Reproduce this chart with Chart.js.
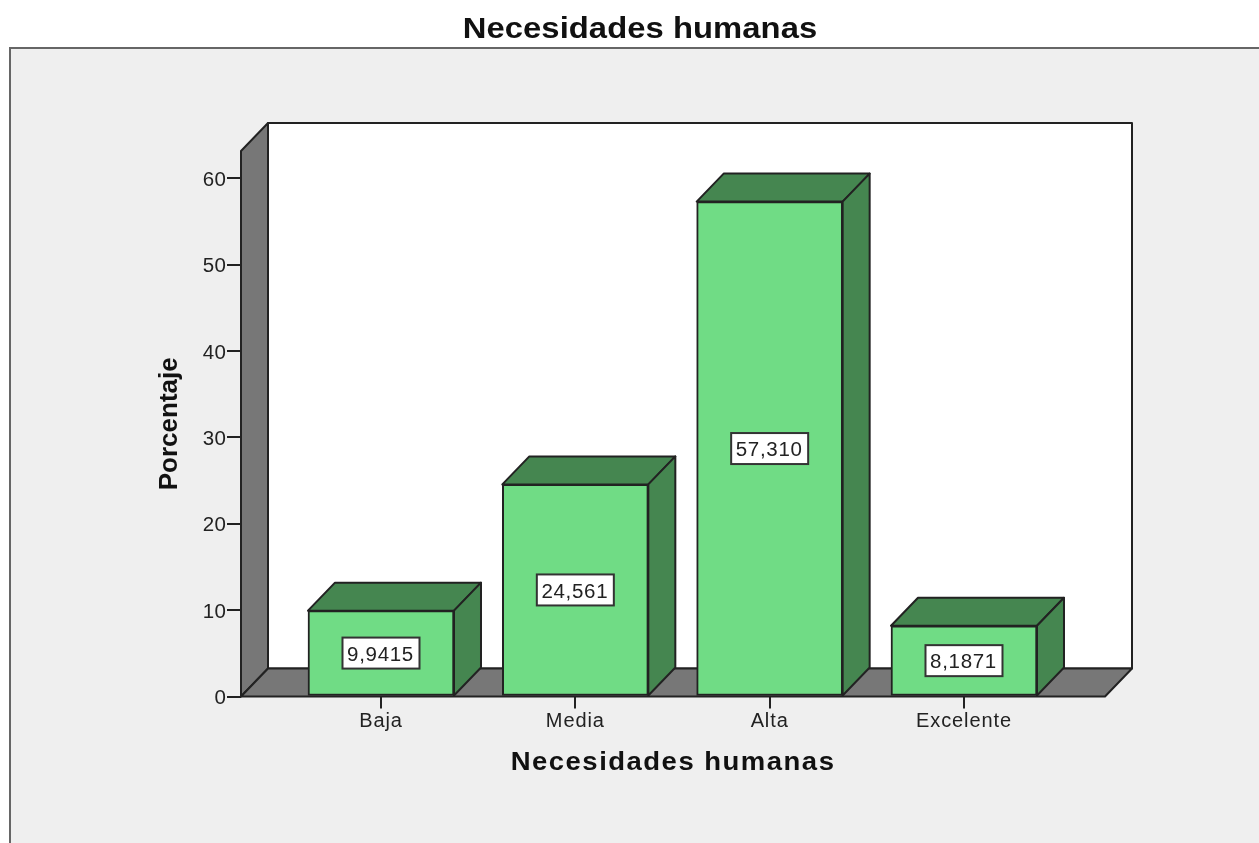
<!DOCTYPE html>
<html>
<head>
<meta charset="utf-8">
<style>html,body{margin:0;padding:0;background:#fff}canvas{display:block;filter:blur(0.45px)}</style>
<script src="https://cdn.jsdelivr.net/npm/chart.js@4/dist/chart.umd.js"></script>
</head>
<body>
<canvas id="c" width="1259" height="843"></canvas>
<script>
const categories = ['Baja', 'Media', 'Alta', 'Excelente'];
const percentages = [9.9415, 24.561, 57.310, 8.1871];
const titleText = 'Necesidades humanas';
const xTitleText = 'Necesidades humanas';
const yTitleText = 'Porcentaje';

const FONT = '"Liberation Sans", Arial, sans-serif';
const INK = '#222222', WALL = '#777777', FRONT = '#70DC85', SHADE = '#458650';
const DX = 27, DY = 28;

function poly(ctx, pts, fill) {
  ctx.beginPath();
  pts.forEach((p, i) => i ? ctx.lineTo(p[0], p[1]) : ctx.moveTo(p[0], p[1]));
  ctx.closePath();
  ctx.fillStyle = fill;
  ctx.fill();
  ctx.lineWidth = 2;
  ctx.strokeStyle = INK;
  ctx.lineJoin = 'round';
  ctx.stroke();
}
// draws a library element with its text slightly spaced, shifted or widened, as in the reference
function styled(obj, method, o) {
  const orig = obj[method];
  obj[method] = function () {
    const ctx = this.ctx;
    ctx.save();
    ctx.letterSpacing = o.spacing || '0px';
    ctx.translate(0, o.shiftY || 0);
    if (o.stretch) {
      ctx.translate(o.cx, 0);
      ctx.scale(o.stretch, 1);
      ctx.translate(-o.cx, 0);
    }
    orig.apply(this, arguments);
    ctx.restore();
  };
}

const scene = {
  id: 'scene',
  beforeDraw(chart) {
    const ctx = chart.ctx, a = chart.chartArea;
    if (!chart.$styled) {
      styled(chart.titleBlock, 'draw', { stretch: 1.13, cx: 640, spacing: '0.05px' });
      styled(chart.scales.x, 'drawTitle', { stretch: 1.1, cx: (a.left + a.right) / 2 - 0.5, spacing: '1.35px' });
      styled(chart.scales.x, 'drawLabels', { spacing: '0.9px' });
      styled(chart.scales.y, 'drawLabels', { spacing: '0.2px', shiftY: 2 });
      chart.$styled = true;
    }
    chart.titleBlock.right = 1280;
    ctx.save();
    ctx.fillStyle = '#EFEFEF';
    ctx.fillRect(10, 48, 1260, 800);
    ctx.strokeStyle = '#666666';
    ctx.lineWidth = 2;
    ctx.beginPath();
    ctx.moveTo(10, 850); ctx.lineTo(10, 48); ctx.lineTo(1262, 48);
    ctx.stroke();
    // back wall, side wall, floor
    poly(ctx, [[a.left + DX, a.top - DY], [a.right + DX, a.top - DY], [a.right + DX, a.bottom - DY], [a.left + DX, a.bottom - DY]], '#FFFFFF');
    poly(ctx, [[a.left, a.top], [a.left + DX, a.top - DY], [a.left + DX, a.bottom - DY], [a.left, a.bottom]], WALL);
    poly(ctx, [[a.left, a.bottom], [a.left + DX, a.bottom - DY], [a.right + DX, a.bottom - DY], [a.right, a.bottom]], WALL);
    ctx.restore();
  },
  beforeDatasetsDraw(chart) {
    const ctx = chart.ctx;
    ctx.save();
    chart.getDatasetMeta(0).data.forEach(b => {
      const l = b.x - b.width / 2, r = b.x + b.width / 2;
      poly(ctx, [[l, b.y], [l + DX, b.y - DY], [r + DX, b.y - DY], [r, b.y]], SHADE);
      poly(ctx, [[r, b.y], [r + DX, b.y - DY], [r + DX, b.base - DY], [r, b.base]], SHADE);
    });
    ctx.restore();
  },
  afterDatasetsDraw(chart) {
    const ctx = chart.ctx;
    ctx.save();
    chart.getDatasetMeta(0).data.forEach((b, i) => {
      const cy = (b.y + b.base) / 2, w = 77, h = 31;
      ctx.fillStyle = '#FFFFFF';
      ctx.fillRect(b.x - w / 2, cy - h / 2, w, h);
      ctx.strokeStyle = '#333333';
      ctx.lineWidth = 2;
      ctx.strokeRect(b.x - w / 2, cy - h / 2, w, h);
      ctx.fillStyle = INK;
      ctx.font = '20.5px ' + FONT;
      ctx.letterSpacing = '0.7px';
      ctx.textAlign = 'center';
      ctx.textBaseline = 'middle';
      ctx.fillText(percentages[i].toPrecision(5).replace('.', ','), b.x - 0.5, cy + 2);
    });
    ctx.restore();
  }
};

new Chart(document.getElementById('c'), {
  type: 'bar',
  data: {
    labels: categories,
    datasets: [{
      data: percentages.map((v, i) => ({ x: i, y: v })),
      backgroundColor: FRONT,
      borderColor: INK,
      borderWidth: 2,
      borderSkipped: false,
      barThickness: 146
    }]
  },
  options: {
    responsive: false,
    animation: false,
    layout: { padding: { left: 0, right: 154, top: 0, bottom: 0 } },
    plugins: {
      legend: { display: false },
      tooltip: { enabled: false },
      title: {
        display: true,
        text: titleText,
        color: '#111111',
        font: { family: FONT, size: 29, weight: 'bold' },
        padding: { top: 13, bottom: 103.2 }
      }
    },
    scales: {
      x: {
        type: 'linear',
        offset: false,
        min: -0.7204,
        max: 3.7256,
        afterBuildTicks(s) { s.ticks = categories.map((_, i) => ({ value: i })); },
        afterFit(s) { s.height = 146.5; },
        grid: { offset: false, drawOnChartArea: false, drawTicks: true, tickLength: 12, color: INK, lineWidth: 2 },
        border: { display: false },
        ticks: {
          color: INK, padding: 1, autoSkip: false, maxRotation: 0,
          font: { family: FONT, size: 20 },
          callback: v => categories[v]
        },
        title: {
          display: true, text: xTitleText, color: '#111111',
          font: { family: FONT, size: 25, weight: 'bold' },
          padding: { top: 0, bottom: 65 }
        }
      },
      y: {
        min: 0,
        max: 63.17,
        afterBuildTicks(s) { s.ticks = s.ticks.filter(t => t.value % 10 === 0); },
        afterFit(s) { s.width = 241; },
        grid: { drawOnChartArea: false, drawTicks: true, tickLength: 14, color: INK, lineWidth: 2 },
        border: { display: false },
        ticks: {
          color: INK, padding: 1, stepSize: 10,
          font: { family: FONT, size: 20.5 },
          callback: v => String(v)
        },
        title: {
          display: true, text: yTitleText, color: '#111111',
          font: { family: FONT, size: 26, weight: 'bold' },
          padding: { top: 154, bottom: 0 }
        }
      }
    }
  },
  plugins: [scene]
});
</script>
</body>
</html>
